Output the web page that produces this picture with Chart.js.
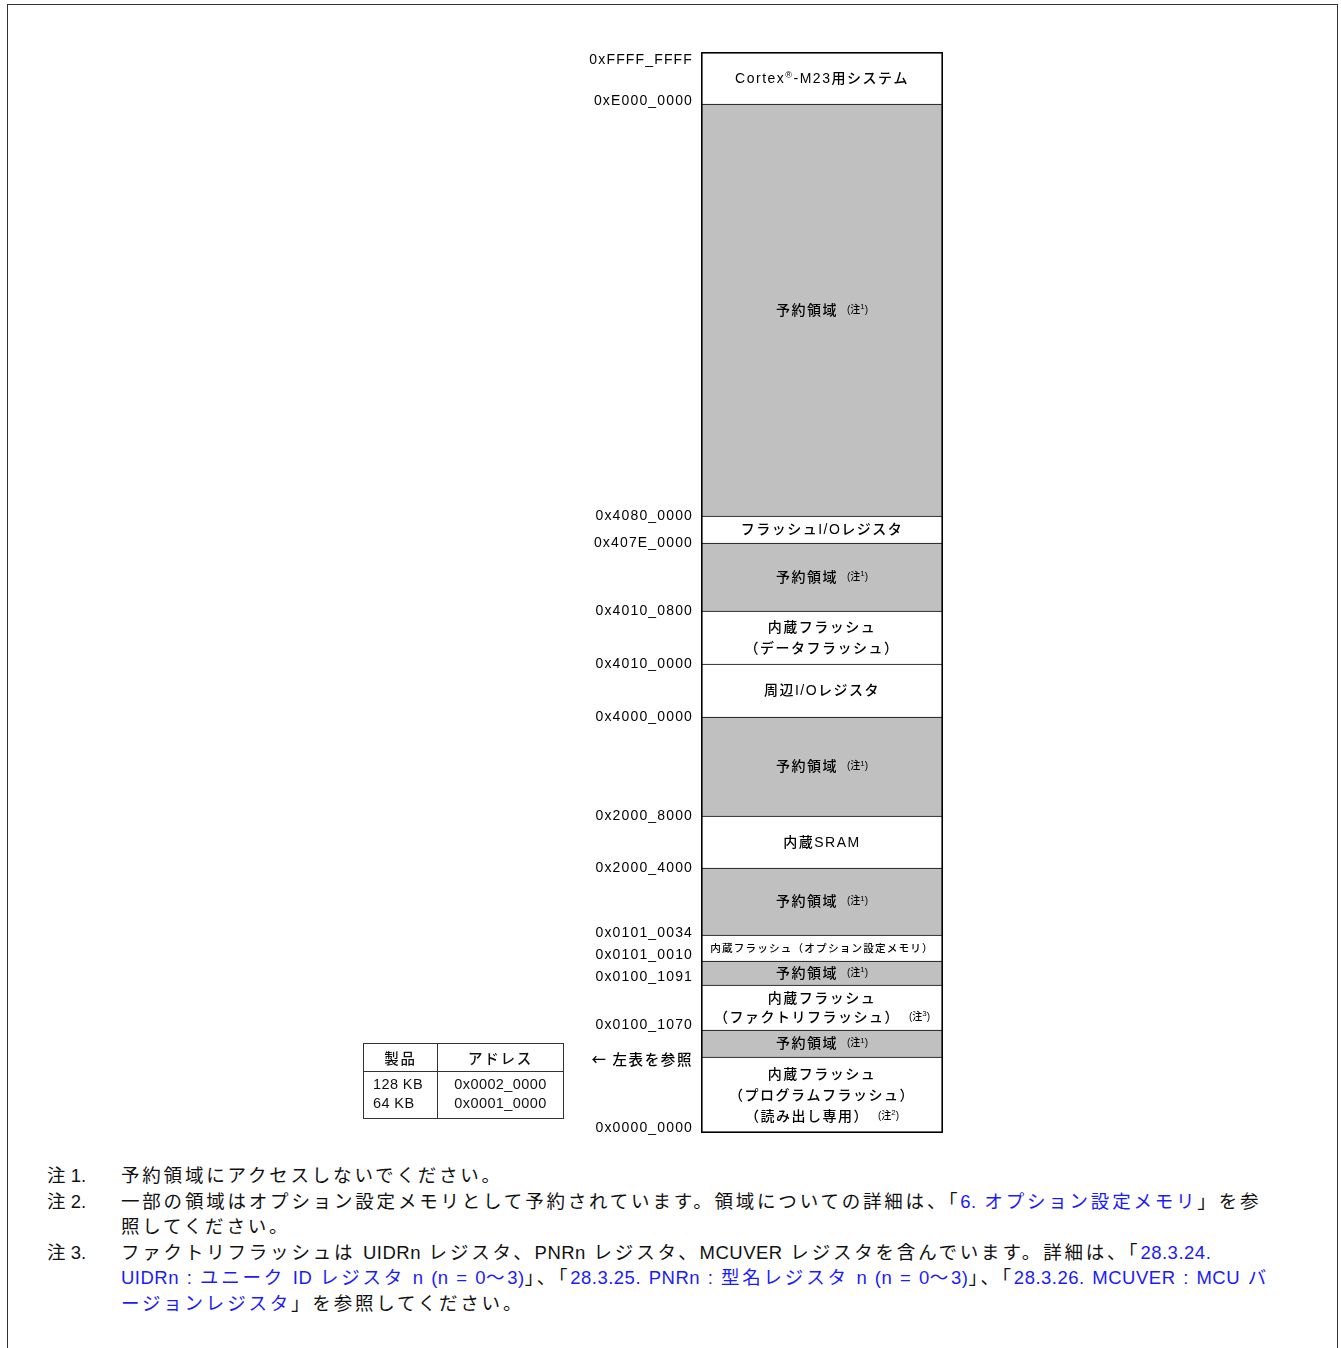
<!DOCTYPE html>
<html lang="ja">
<head>
<meta charset="utf-8">
<title>メモリマップ</title>
<script src="https://cdn.jsdelivr.net/npm/chart.js@4.4.0/dist/chart.umd.min.js"></script>
<style>
  html, body { margin: 0; padding: 0; background: #fff; }
  body {
    width: 1341px; height: 1348px; position: relative; overflow: hidden;
    font-family: "Liberation Sans", "Noto Sans CJK JP", sans-serif; color: #111;
  }
  #frame {
    position: absolute; left: 7px; top: 4px; width: 1331px; height: 1400px;
    border: 1px solid #333; box-sizing: border-box;
  }
  #map { position: absolute; left: 0; top: 0; }
  #sizeTable {
    position: absolute; left: 363px; top: 1043px; width: 201px;
    border-collapse: collapse; font-size: 14.5px; letter-spacing: 0.4px;
  }
  #sizeTable th, #sizeTable td { border: 1px solid #333; padding: 0; font-weight: 500; }
  #sizeTable th { height: 27px; text-align: center; letter-spacing: 1.8px; }
  #sizeTable td { line-height: 19px; padding: 3px 0 5px 0; vertical-align: top; font-weight: normal; }
  #sizeTable td.c1 { width: 64px; padding-left: 9px; }
  #sizeTable td.c2 { text-align: center; }
  #notes {
    position: absolute; left: 47px; top: 1163px; font-size: 18.5px; line-height: 25.6px;
    white-space: nowrap;
  }
  .note { position: relative; padding-left: 74px; letter-spacing: 0.5px; word-spacing: 2px; }
  .note .lab { position: absolute; left: 0; top: 0; letter-spacing: 0; word-spacing: 0; }
  .jp { letter-spacing: 2.8px; }
  .lnk { color: #1a1aff; }
</style>
</head>
<body>
<div id="frame"></div>
<canvas id="map" width="1341" height="1160"></canvas>

<table id="sizeTable">
  <tr><th>製品</th><th>アドレス</th></tr>
  <tr><td class="c1">128 KB<br>64 KB</td><td class="c2">0x0002_0000<br>0x0001_0000</td></tr>
</table>

<div id="notes">
  <div class="note"><span class="lab">注 1.</span>予約領域にアクセスしないでください。</div>
  <div class="note"><span class="lab">注 2.</span>一部の領域はオプション設定メモリとして予約されています。領域についての詳細は、「<span class="lnk">6. オプション設定メモリ</span>」を参<br>照してください。</div>
  <div class="note"><span class="lab">注 3.</span>ファクトリフラッシュは UIDRn レジスタ、PNRn レジスタ、MCUVER レジスタを含んでいます。詳細は、「<span class="lnk">28.3.24.</span><br><span class="lnk">UIDRn : ユニーク ID レジスタ n (n = 0〜3)</span>」、「<span class="lnk">28.3.25. PNRn : 型名レジスタ n (n = 0〜3)</span>」、「<span class="lnk">28.3.26. MCUVER : MCU バ</span><br><span class="lnk">ージョンレジスタ</span>」を参照してください。</div>
</div>

<script>
// === 1. Données : régions de la carte mémoire (du bas vers le haut) ===
const regionNames = [
  ['内蔵フラッシュ', '（プログラムフラッシュ）', '（読み出し専用）'],
  ['予約領域'],
  ['内蔵フラッシュ', '（ファクトリフラッシュ）'],
  ['予約領域'],
  ['内蔵フラッシュ（オプション設定メモリ）'],
  ['予約領域'],
  ['内蔵SRAM'],
  ['予約領域'],
  ['周辺I/Oレジスタ'],
  ['内蔵フラッシュ', '（データフラッシュ）'],
  ['予約領域'],
  ['フラッシュI/Oレジスタ'],
  ['予約領域'],
  ['Cortex®-M23用システム']
];
// hauteur de chaque bloc dans le schéma (pas proportionnelle aux adresses)
const regionSizes = [76, 27, 45, 24, 26, 67, 52, 99, 53, 53, 68, 27, 412, 52];
const regionReserved = [false, true, false, true, false, true, false, true, false, false, true, false, true, false];
const regionNotes = ['2', '1', '3', '1', '', '1', '', '1', '', '', '1', '', '1', ''];
// étiquettes des limites, du bas vers le haut
const addressLabels = ['0x0000_0000', '← 左表を参照', '0x0100_1070', '0x0100_1091', '0x0101_0010',
  '0x0101_0034', '0x2000_4000', '0x2000_8000', '0x4000_0000', '0x4010_0000', '0x4010_0800',
  '0x407E_0000', '0x4080_0000', '0xE000_0000', '0xFFFF_FFFF'];

// petits décalages verticaux des étiquettes d'adresse (mise en page seulement)
const labelNudge = [-5, 2, -5, -8, -6, -2, 0, 0, 0, 0, 0, 0, 0, -3, 8];

const FONT = '"Liberation Sans", "Noto Sans CJK JP", sans-serif';
const totalSize = regionSizes.reduce((a, b) => a + b, 0);

// === 2. Notes : espacement plus large sur le texte japonais ===
const JP_RUN = /([\u3000-\u30ff\u4e00-\u9fff\uff00-\uffef]+)/;
function wrapJapanese(node) {
  Array.from(node.childNodes).forEach(child => {
    if (child.nodeType === 3) {
      const frag = document.createDocumentFragment();
      child.textContent.split(JP_RUN).forEach(p => {
        if (!p) return;
        if (JP_RUN.test(p)) {
          const s = document.createElement('span');
          s.className = 'jp';
          s.textContent = p;
          frag.appendChild(s);
        } else {
          frag.appendChild(document.createTextNode(p));
        }
      });
      node.replaceChild(frag, child);
    } else if (child.nodeType === 1 && !child.classList.contains('lab')) {
      wrapJapanese(child);
    }
  });
}
wrapJapanese(document.getElementById('notes'));

// === 3. Texte avec ® en exposant + note (注n) ===
function setFont(ctx, size, spacing) {
  ctx.font = '500 ' + size + 'px ' + FONT;
  ctx.letterSpacing = spacing + 'px';
}

function textWidth(ctx, text, size, spacing) {
  setFont(ctx, size, spacing);
  return ctx.measureText(text).width;
}

function drawRichLine(ctx, text, note, cx, cy, size, spacing) {
  const parts = text.split('®');
  const noteGap = note ? 9 : 0;
  let w = 0;
  parts.forEach((p, i) => {
    w += textWidth(ctx, p, size, spacing);
    if (i < parts.length - 1) w += textWidth(ctx, '®', size * 0.65, 0) + spacing;
  });
  let nw = 0;
  if (note) {
    nw = textWidth(ctx, '(注', 10, 0) + textWidth(ctx, note, 8, 0) + textWidth(ctx, ')', 10, 0);
  }
  let x = cx - (w + noteGap + nw) / 2;
  ctx.textAlign = 'left';
  ctx.textBaseline = 'middle';
  parts.forEach((p, i) => {
    setFont(ctx, size, spacing);
    ctx.fillText(p, x, cy);
    x += ctx.measureText(p).width;
    if (i < parts.length - 1) {
      setFont(ctx, size * 0.65, 0);
      ctx.fillText('®', x, cy - 4);
      x += ctx.measureText('®').width + spacing;
    }
  });
  if (note) {
    x += noteGap;
    setFont(ctx, 10, 0);
    ctx.fillText('(注', x, cy - 1);
    x += ctx.measureText('(注').width;
    setFont(ctx, 8, 0);
    ctx.fillText(note, x, cy - 4);
    x += ctx.measureText(note).width;
    setFont(ctx, 10, 0);
    ctx.fillText(')', x, cy - 1);
  }
}

// === 4. Plugin : cadre, libellés des régions et adresses ===
const memoryMapPlugin = {
  id: 'memoryMap',
  afterDatasetsDraw(chart) {
    const ctx = chart.ctx;
    const area = chart.chartArea;
    const yScale = chart.scales.y;
    const cx = (area.left + area.right) / 2;
    const boxW = area.right - area.left;
    ctx.save();
    ctx.fillStyle = '#000';

    regionNames.forEach((lines, i) => {
      const bar = chart.getDatasetMeta(i).data[0];
      const top = Math.min(bar.y, bar.base);
      const bottom = Math.max(bar.y, bar.base);
      const h = bottom - top;
      const cy = (top + bottom) / 2;
      let size = 14, spacing = 1.5;
      const maxW = Math.max(...lines.map(l => textWidth(ctx, l, size, spacing)));
      if (maxW > boxW - 18) {
        const k = (boxW - 18) / maxW;
        size *= k; spacing *= k;
      }
      const lh = Math.min(21, (h - 6) / lines.length);
      lines.forEach((line, j) => {
        const ly = cy + (j - (lines.length - 1) / 2) * lh + 1;
        const note = j === lines.length - 1 ? regionNotes[i] : '';
        drawRichLine(ctx, line, note, cx, ly, size, spacing);
      });
    });

    // adresses à gauche des limites
    let cum = 0;
    addressLabels.forEach((label, k) => {
      const py = yScale.getPixelForValue(cum);
      ctx.textAlign = 'right';
      ctx.textBaseline = 'middle';
      if (label.startsWith('0x')) {
        ctx.font = '14px ' + FONT;
        ctx.letterSpacing = '1.15px';
      } else {
        ctx.font = '500 14.5px "Noto Sans CJK JP", sans-serif';
        ctx.letterSpacing = '1.6px';
      }
      ctx.fillText(label, area.left - 8, py + labelNudge[k]);
      cum += regionSizes[k] || 0;
    });

    // cadre extérieur
    ctx.letterSpacing = '0px';
    ctx.strokeStyle = '#000';
    ctx.lineWidth = 1.6;
    ctx.strokeRect(area.left + 0.8, area.top + 0.8, boxW - 1.6, area.bottom - area.top - 1.6);
    ctx.restore();
  }
};

// === 5. Graphique : une barre empilée = la carte mémoire ===
const canvas = document.getElementById('map');
new Chart(canvas, {
  type: 'bar',
  data: {
    labels: ['map'],
    datasets: regionSizes.map((v, i) => ({
      label: regionNames[i].join(''),
      data: [v],
      backgroundColor: regionReserved[i] ? '#c0c0c0' : '#ffffff',
      borderColor: '#000',
      borderWidth: { top: 1, left: 0, right: 0, bottom: 0 },
      borderSkipped: false,
      barPercentage: 1,
      categoryPercentage: 1
    }))
  },
  options: {
    responsive: false,
    animation: false,
    devicePixelRatio: 1,
    layout: { padding: { left: 701, right: 398, top: 52, bottom: 27 } },
    plugins: { legend: { display: false }, tooltip: { enabled: false } },
    scales: {
      x: { stacked: true, display: false },
      y: { stacked: true, display: false, min: 0, max: totalSize }
    }
  },
  plugins: [memoryMapPlugin]
});
</script>
</body>
</html>
